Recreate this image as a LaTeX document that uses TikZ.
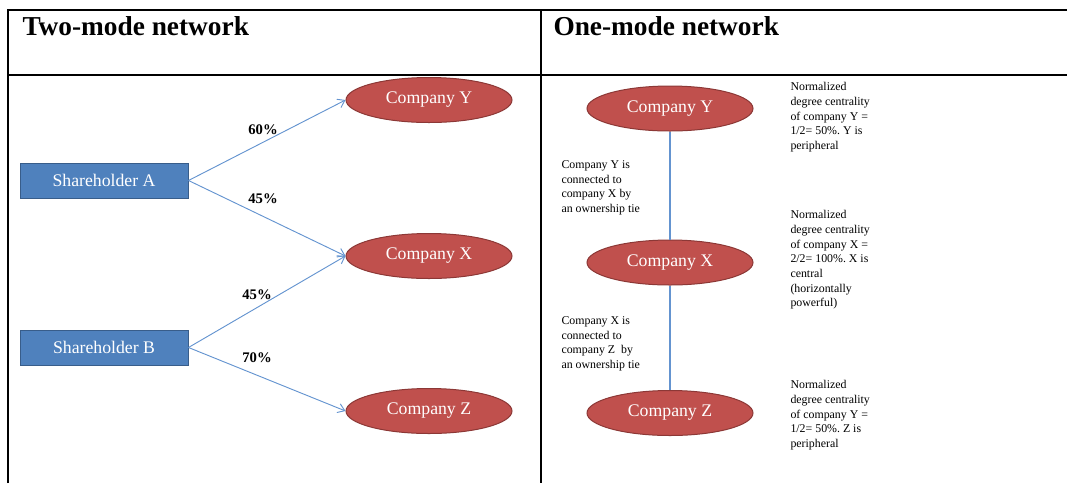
\documentclass[tikz,border=0pt]{standalone}
\usepackage{fontspec}
\setmainfont{Liberation Serif}
\usetikzlibrary{shapes.geometric,arrows.meta}
\frenchspacing

\definecolor{boxblue}{RGB}{79,129,189}
\definecolor{boxedge}{RGB}{56,93,138}
\definecolor{ovalred}{RGB}{192,80,77}
\definecolor{ovaledge}{RGB}{140,56,54}
\definecolor{tieblue}{RGB}{100,148,208}

\tikzset{every picture/.style={line width=0.75pt}}
\tikzset{
  holder/.style={draw=boxedge, fill=boxblue, text=white, minimum width=126pt, minimum height=26.25pt, inner sep=0.75pt, font=\fontsize{13.3}{15}\selectfont},
  firm/.style={ellipse, draw=ovaledge, fill=ovalred, text=white, minimum width=124.5pt, minimum height=33.75pt, inner sep=0.75pt, font=\fontsize{13.3}{15}\selectfont},
  link/.style={draw=tieblue, line width=0.7pt, -{Straight Barb[length=5pt,width=7pt]}},
  tie/.style={draw=tieblue, line width=0.9pt},
  pct/.style={inner sep=0.75pt, font=\bfseries\fontsize{11}{13}\selectfont},
  note/.style={anchor=north west, align=left, inner sep=0pt, font=\fontsize{8.9}{11}\selectfont},
  heading/.style={anchor=base west, inner sep=0pt, font=\bfseries\fontsize{20.5}{24}\selectfont},
  rule/.style={line width=1.5pt}
}

\begin{document}
\begin{tikzpicture}[x=0.75pt,y=0.75pt,yscale=-1,xscale=1]
\useasboundingbox (0,0) rectangle (1067,483);

% table rules
\draw [rule] (7.5,483) -- (7.5,10) -- (1067,10);
\draw [rule] (7.5,74.5) -- (1067,74.5);
\draw [rule] (541,10) -- (541,483);

\node [heading] (twomode) at (22,35) {Two-mode network};
\node [heading] (onemode) at (553,35) {One-mode network};

% two-mode network
\node [holder] (shA) at (104,180.5) {Shareholder A};
\node [holder] (shB) at (104,347.5) {Shareholder B};
\node [firm] (cY) at (429,100) {Company Y};
\node [firm] (cX) at (429,256) {Company X};
\node [firm] (cZ) at (429,411) {Company Z};

\draw [link] (shA.east) -- (cY.west);
\draw [link] (shA.east) -- (cX.west);
\draw [link] (shB.east) -- (cX.west);
\draw [link] (shB.east) -- (cZ.west);

\node [pct] (pAY) at (263,130) {60\%};
\node [pct] (pAX) at (263,199) {45\%};
\node [pct] (pBX) at (257,295) {45\%};
\node [pct] (pBZ) at (257,358) {70\%};

% one-mode network
\node [firm] (rY) at (670,108.5) {Company Y};
\node [firm] (rX) at (670,262.5) {Company X};
\node [firm] (rZ) at (670,413) {Company Z};

\draw [tie] (rY) -- (rX);
\draw [tie] (rX) -- (rZ);

\node [note] (tieYX) at (561,160) {Company Y is\\connected to\\company X by\\an ownership tie};
\node [note] (tieXZ) at (561,316) {Company X is\\connected to\\company Z~ by\\an ownership tie};

\node [note] (degY) at (790,82) {Normalized\\degree centrality\\of company Y =\\1/2= 50\%. Y is\\peripheral};
\node [note] (degX) at (790,210) {Normalized\\degree centrality\\of company X =\\2/2= 100\%. X is\\central\\(horizontally\\powerful)};
\node [note] (degZ) at (790,380) {Normalized\\degree centrality\\of company Y =\\1/2= 50\%. Z is\\peripheral};

\end{tikzpicture}
\end{document}
